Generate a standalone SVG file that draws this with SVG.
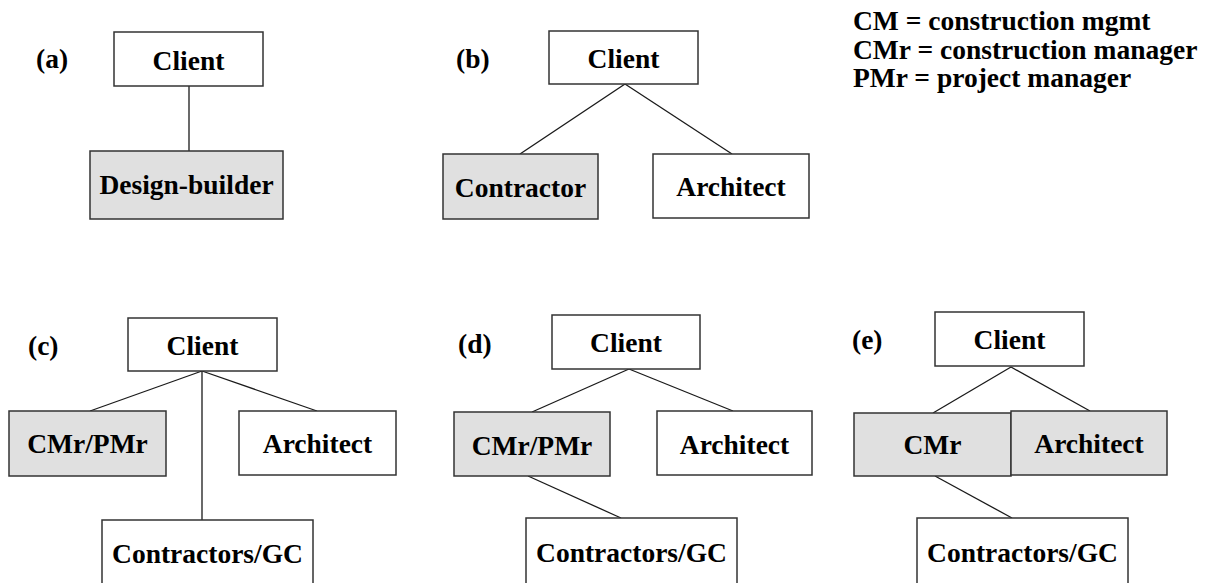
<svg xmlns="http://www.w3.org/2000/svg" width="1208" height="583" viewBox="0 0 1208 583">
<style>
  .box{fill:#ffffff;stroke:#333333;stroke-width:1.5}
  .shaded{fill:#e0e0e0}
  .t{font-family:"Liberation Serif","Times New Roman",serif;font-weight:bold;font-size:27.5px;fill:#000000;text-anchor:middle}
  .lbl{font-family:"Liberation Serif","Times New Roman",serif;font-weight:bold;font-size:27.5px;fill:#000000}
  .conn line{stroke:#1a1a1a;stroke-width:1.3}
</style>
<rect width="1208" height="583" fill="#ffffff"/>

<g id="connectors" class="conn">
  <line x1="189" y1="86" x2="189" y2="151"/>
  <line x1="625" y1="84" x2="520" y2="154"/>
  <line x1="625" y1="84" x2="732" y2="154"/>
  <line x1="202" y1="371" x2="90" y2="411"/>
  <line x1="202" y1="371" x2="317" y2="411"/>
  <line x1="202" y1="371" x2="202" y2="520"/>
  <line x1="629" y1="369" x2="532" y2="412"/>
  <line x1="629" y1="369" x2="733" y2="411"/>
  <line x1="528" y1="476" x2="621" y2="518"/>
  <line x1="1011" y1="367" x2="933" y2="413"/>
  <line x1="1011" y1="367" x2="1090" y2="411"/>
  <line x1="935" y1="476" x2="1012" y2="518"/>
</g>

<g id="labels">
  <text class="lbl" x="36" y="68">(a)</text>
  <text class="lbl" x="456" y="68">(b)</text>
  <text class="lbl" x="28" y="355">(c)</text>
  <text class="lbl" x="458" y="353">(d)</text>
  <text class="lbl" x="852" y="349">(e)</text>
</g>

<g id="legend">
  <text class="lbl" x="853" y="30">CM = construction mgmt</text>
  <text class="lbl" x="853" y="58.5">CMr = construction manager</text>
  <text class="lbl" x="853" y="87">PMr = project manager</text>
</g>

<g id="a-client"><rect class="box" x="114" y="32" width="149" height="54"/><text class="t" x="188.5" y="70">Client</text></g>
<g id="a-designbuilder"><rect class="box shaded" x="90" y="151" width="193" height="68"/><text class="t" x="186.5" y="194">Design-builder</text></g>

<g id="b-client"><rect class="box" x="549" y="31" width="149" height="53"/><text class="t" x="623.5" y="68">Client</text></g>
<g id="b-contractor"><rect class="box shaded" x="443" y="154" width="155" height="65"/><text class="t" x="520.5" y="197">Contractor</text></g>
<g id="b-architect"><rect class="box" x="653" y="154" width="156" height="64"/><text class="t" x="731" y="196">Architect</text></g>

<g id="c-client"><rect class="box" x="128" y="318" width="149" height="53"/><text class="t" x="202.5" y="355">Client</text></g>
<g id="c-cmrpmr"><rect class="box shaded" x="9" y="411" width="157" height="65"/><text class="t" x="87.5" y="453">CMr/PMr</text></g>
<g id="c-architect"><rect class="box" x="239" y="411" width="157" height="64"/><text class="t" x="317.5" y="453">Architect</text></g>
<g id="c-contractors"><rect class="box" x="102" y="520" width="211" height="70"/><text class="t" x="207.5" y="563">Contractors/GC</text></g>

<g id="d-client"><rect class="box" x="552" y="315" width="148" height="54"/><text class="t" x="626" y="352">Client</text></g>
<g id="d-cmrpmr"><rect class="box shaded" x="454" y="412" width="156" height="64"/><text class="t" x="532" y="455">CMr/PMr</text></g>
<g id="d-architect"><rect class="box" x="657" y="411" width="155" height="64"/><text class="t" x="734.5" y="454">Architect</text></g>
<g id="d-contractors"><rect class="box" x="526" y="518" width="211" height="70"/><text class="t" x="631.5" y="562">Contractors/GC</text></g>

<g id="e-client"><rect class="box" x="935" y="312" width="149" height="54"/><text class="t" x="1009.5" y="349">Client</text></g>
<g id="e-cmr"><rect class="box shaded" x="854" y="413" width="157" height="63"/><text class="t" x="932.5" y="454">CMr</text></g>
<g id="e-architect"><rect class="box shaded" x="1011" y="411" width="156" height="64"/><text class="t" x="1089" y="453">Architect</text></g>
<g id="e-contractors"><rect class="box" x="917" y="518" width="211" height="70"/><text class="t" x="1022.5" y="562">Contractors/GC</text></g>
</svg>
